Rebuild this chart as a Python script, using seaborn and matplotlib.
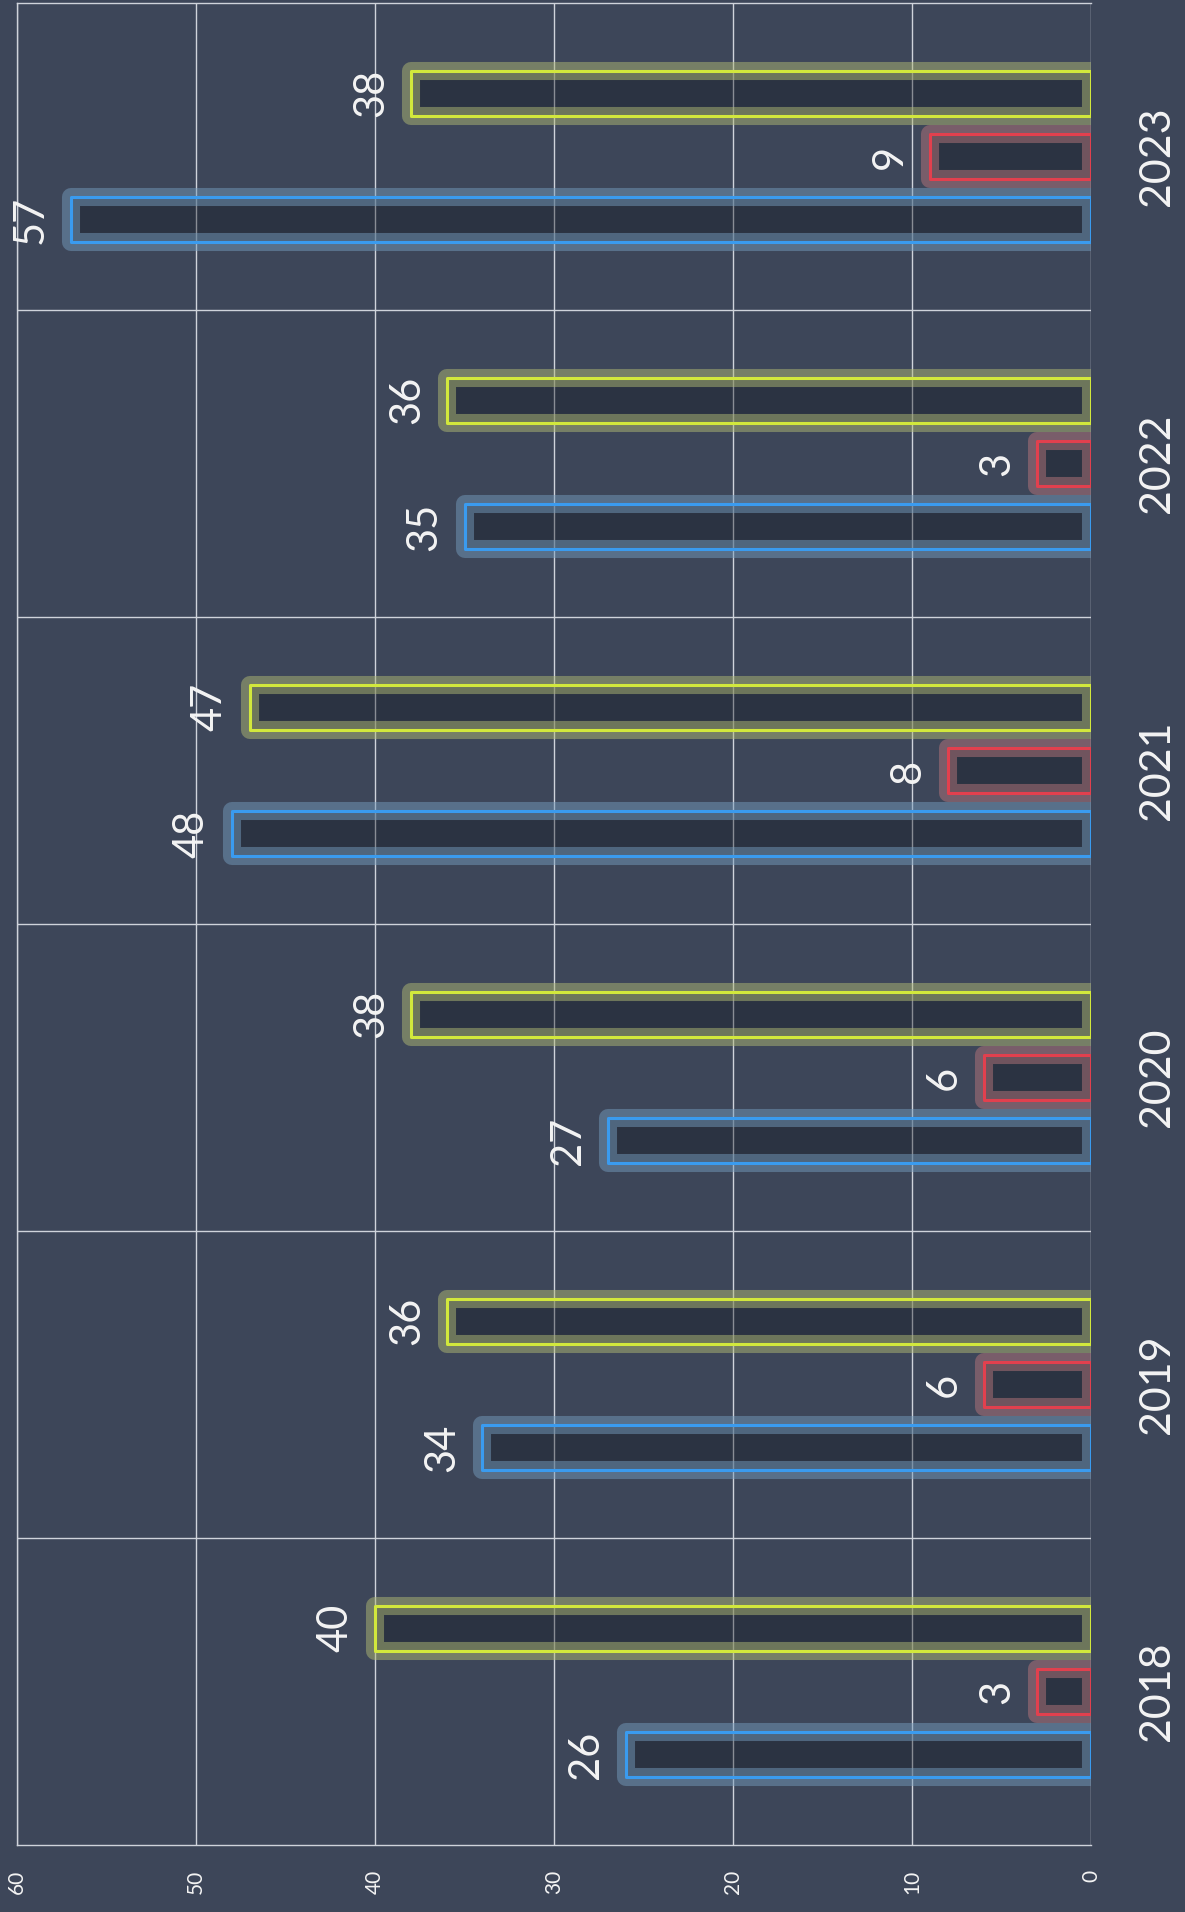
import numpy as np
import pandas as pd
import matplotlib
matplotlib.use("Agg")
import matplotlib.pyplot as plt
import matplotlib.patheffects as pe
from matplotlib.colors import to_rgb
import seaborn as sns

# ---- data ----
years = ["2018", "2019", "2020", "2021", "2022", "2023"]
series_names = ["Série 1", "Série 2", "Série 3"]
series_1 = [26, 34, 27, 48, 35, 57]
series_2 = [3, 6, 6, 8, 3, 9]
series_3 = [40, 36, 38, 47, 36, 38]
value_ticks = [0, 10, 20, 30, 40, 50, 60]

line_colors = ["#3a9bef", "#e2404e", "#d2e83c"]
bg = "#3d4659"
grid_col = "#cfd3db"
text_col = "#f4f4f4"

df = pd.DataFrame({
    "year": years * 3,
    "value": series_1 + series_2 + series_3,
    "series": [series_names[0]] * 6 + [series_names[1]] * 6 + [series_names[2]] * 6,
})

sns.set_theme(style="white")
plt.rcParams["font.family"] = ["Lato", "DejaVu Sans"]

fig = plt.figure(figsize=(11.85, 19.12), dpi=100, facecolor=bg)
ax = fig.add_axes([17 / 1185, 1 - 1845 / 1912, (1091 - 17) / 1185, (1845 - 3) / 1912])
ax.set_facecolor(bg)

sns.barplot(data=df, y="year", x="value", hue="series", order=years,
            hue_order=series_names, palette=line_colors, orient="h",
            width=0.62, gap=0.29, legend=False, ax=ax, zorder=3)


class Outline(pe.AbstractPathEffect):
    def __init__(self, lw, color):
        super().__init__()
        self.lw = lw
        self.color = color

    def draw_path(self, renderer, gc, tpath, affine, rgbFace=None):
        gc0 = renderer.new_gc()
        gc0.copy_properties(gc)
        gc0.set_linewidth(self.lw)
        gc0.set_foreground(self.color, isRGBA=True)
        gc0.set_alpha(None)
        gc0.set_joinstyle("round")
        renderer.draw_path(gc0, tpath, affine, None)
        gc0.restore()


gray = np.array([0.6, 0.6, 0.6])
for cont, col in zip(ax.containers, line_colors):
    c = np.array(to_rgb(col))
    halo = tuple((0.4 * c + 0.6 * gray).tolist()) + (0.5,)
    for p, v in zip(cont.patches, cont.datavalues):
        p.set_facecolor((0.05, 0.07, 0.1, 0.36))
        p.set_edgecolor("none")
        p.set_linewidth(0)
        p.set_path_effects([pe.Normal(), Outline(13, halo), Outline(2.2, tuple(c) + (1,))])
        ax.annotate(str(int(v)), xy=(v, p.get_y() + p.get_height() / 2),
                    xytext=(-15, 0), textcoords="offset points",
                    ha="right", va="center", rotation=90,
                    fontsize=30, color=text_col, zorder=5)

ax.set_xlim(60, 0)
ax.set_xticks(value_ticks)
ax.set_xticklabels([str(v) for v in value_ticks])
ax.set_ylim(-0.5, len(years) - 0.5)
ax.yaxis.tick_right()
ax.set_yticks(range(len(years)))
ax.set_yticklabels(years)
ax.set_yticks(np.arange(len(years) - 1) + 0.5, minor=True)

ax.tick_params(axis="x", length=0, pad=18, labelsize=15, labelcolor=text_col, labelrotation=90)
ax.tick_params(axis="y", which="both", length=0, pad=34, labelsize=31, labelcolor=text_col,
               labelrotation=90)
for lab in ax.get_yticklabels():
    lab.set_va("center")

ax.grid(axis="x", which="major", color=grid_col, linewidth=1.0, zorder=0)
ax.grid(axis="y", which="minor", color=grid_col, linewidth=1.0, zorder=0)
ax.grid(axis="y", which="major", visible=False)
ax.set_axisbelow(True)
ax.set_xlabel("")
ax.set_ylabel("")

for side in ["left", "top", "bottom"]:
    ax.spines[side].set_color(grid_col)
    ax.spines[side].set_linewidth(1.0)
ax.spines["right"].set_visible(False)

fig.savefig("out.png", dpi=100, facecolor=bg)
